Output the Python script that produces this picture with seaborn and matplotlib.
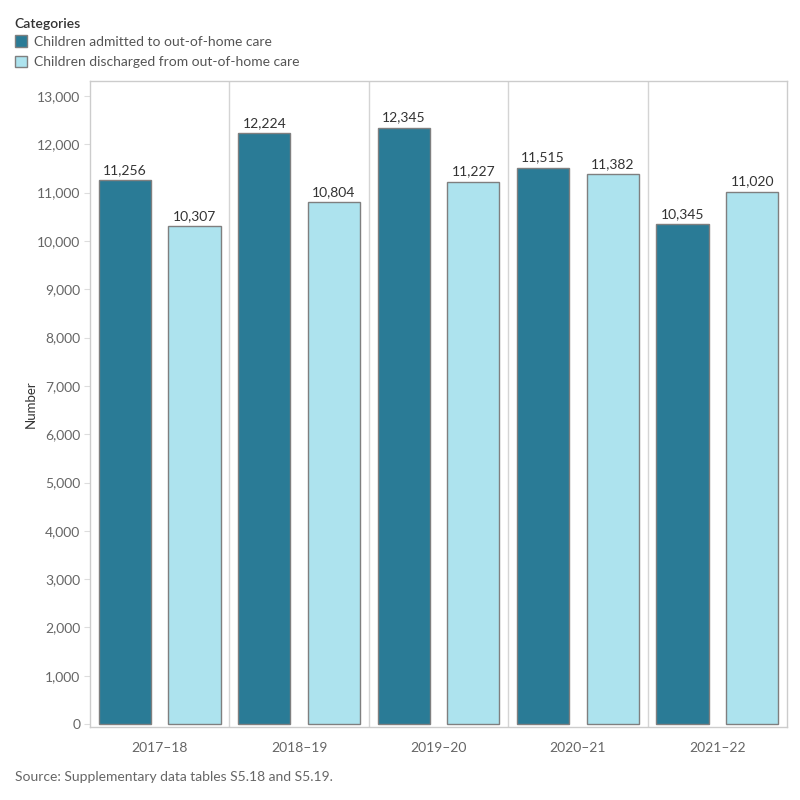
import matplotlib
matplotlib.use("Agg")
import matplotlib.pyplot as plt
from matplotlib.patches import Patch
from matplotlib.ticker import FuncFormatter, MultipleLocator
import seaborn as sns
import pandas as pd

years = ["2017–18", "2018–19", "2019–20", "2020–21", "2021–22"]
categories = ["Children admitted to out-of-home care",
              "Children discharged from out-of-home care"]
admitted = [11256, 12224, 12345, 11515, 10345]
discharged = [10307, 10804, 11227, 11382, 11020]
colors = ["#2a7b96", "#ade3ee"]

df = pd.DataFrame({
    "Year": years * 2,
    "Category": [categories[0]] * len(years) + [categories[1]] * len(years),
    "Number": admitted + discharged,
})

sns.set_theme(style="white")
plt.rcParams["font.family"] = ["Lato", "DejaVu Sans"]

fig = plt.figure(figsize=(8, 8), dpi=100)
ax = fig.add_axes([90/800, 73/800, 697/800, 646/800])

sns.barplot(data=df, x="Year", y="Number", hue="Category", order=years,
            hue_order=categories, palette=colors, saturation=1, width=1.0,
            gap=0.25, edgecolor="#7f7f7f", linewidth=1.0, legend=False, ax=ax,
            errorbar=None)

for cont in ax.containers:
    ax.bar_label(cont, labels=[f"{v:,.0f}" for v in cont.datavalues],
                 padding=3, fontsize=10, color="#333333")

ax.set_xlim(-0.5, len(years) - 0.5)
ax.set_ylim(-60, 13310)
ax.yaxis.set_major_locator(MultipleLocator(1000))
ax.yaxis.set_major_formatter(FuncFormatter(lambda v, p: f"{v:,.0f}"))
for xv in [0.5, 1.5, 2.5, 3.5]:
    ax.axvline(xv, color="#d4d4d4", linewidth=1.0, zorder=0)

for s in ax.spines.values():
    s.set_color("#cccccc")
    s.set_linewidth(1.0)

ax.tick_params(axis="y", which="major", left=True, length=4, width=0.8,
               color="#dddddd", labelsize=10, labelcolor="#666666", pad=3)
ax.tick_params(axis="x", bottom=False, labelsize=10, labelcolor="#666666", pad=5)
ax.set_xlabel("")
ax.set_ylabel("Number", fontsize=9.5, color="#333333", labelpad=0)

handles = [Patch(facecolor=c, edgecolor="#7f7f7f", linewidth=1.0) for c in colors]
leg = fig.legend(handles, categories, title="Categories", loc="upper left",
                 bbox_to_anchor=(0.008, 0.988), frameon=False, fontsize=10,
                 title_fontsize=10, handlelength=0.9, handleheight=0.9,
                 handletextpad=0.5, labelspacing=0.55, alignment="left",
                 borderaxespad=0.2)
leg._legend_box.sep = 4
for t in leg.get_texts():
    t.set_color("#555555")
leg.get_title().set_color("#333333")
leg.get_title().set_fontweight("semibold")

fig.text(15/800, 1 - 777/800, "Source: Supplementary data tables S5.18 and S5.19.",
         fontsize=10, color="#666666", va="center", ha="left")

fig.savefig("out.png", dpi=100)
